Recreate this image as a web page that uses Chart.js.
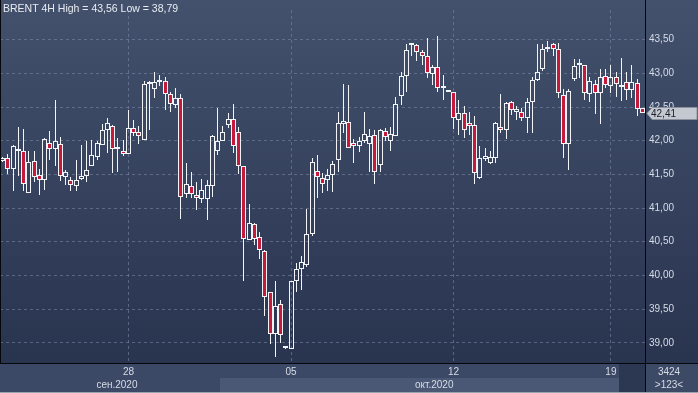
<!DOCTYPE html>
<html>
<head>
<meta charset="utf-8">
<script src="https://cdn.jsdelivr.net/npm/chart.js@4.4.1/dist/chart.umd.min.js"></script>
<style>
  html, body { margin: 0; padding: 0; background: #2a3550; }
  #chart { display: block; }
</style>
</head>
<body>
<canvas id="chart" width="698" height="393"></canvas>
<script>
// BRENT 4H candles (one entry per bar, oldest first)
var openPrices = [
  41.70, 41.74, 41.58, 41.84, 41.84, 41.23, 41.70, 41.49, 41.42, 41.97,
  41.87, 41.95, 41.46, 41.42, 41.33, 41.43, 41.48, 41.62, 41.76, 41.93,
  42.16, 42.22, 41.87, 41.84, 41.80, 42.19, 42.13, 42.01, 42.84, 42.76,
  42.87, 42.88, 42.69, 42.53, 42.63, 41.21, 41.33, 41.20, 41.13, 41.13,
  41.33, 41.84, 42.00, 42.24, 42.32, 42.13, 41.63, 40.52, 40.76, 40.57,
  40.36, 39.76, 39.13, 39.58, 38.92, 38.91, 39.92, 40.10, 40.16, 40.62,
  41.55, 41.45, 41.42, 41.49, 41.71, 42.25, 42.28, 41.97, 41.92, 42.00,
  41.95, 42.08, 41.64, 42.15, 41.99, 42.07, 42.66, 42.96, 43.42, 43.42,
  43.31, 43.26, 42.99, 43.10, 42.79, 42.73, 42.73, 42.31, 42.41, 42.26,
  42.23, 41.45, 41.73, 41.67, 41.74, 42.20, 42.16, 42.57, 42.43, 42.42,
  42.33, 42.58, 42.90, 43.06, 43.36, 43.43, 43.36, 42.68, 41.95, 42.92,
  43.12, 43.13, 42.70, 42.84, 42.71, 42.96, 42.81, 42.95, 42.82, 42.87,
  42.75, 42.86, 42.48
];
var highPrices = [
  41.76, 41.80, 41.94, 42.20, 42.18, 41.84, 41.84, 41.58, 42.04, 42.15,
  42.61, 42.06, 41.56, 41.46, 41.71, 41.94, 42.00, 42.01, 42.00, 42.25,
  42.33, 42.24, 42.04, 42.01, 42.46, 42.31, 42.22, 42.88, 42.88, 43.02,
  42.97, 42.94, 42.72, 42.78, 42.69, 41.67, 41.53, 41.39, 41.43, 41.42,
  42.08, 42.49, 42.22, 42.41, 42.55, 42.20, 41.63, 41.06, 40.78, 40.64,
  40.38, 39.76, 39.92, 39.64, 38.93, 39.92, 40.18, 40.29, 40.98, 41.74,
  41.79, 41.52, 41.58, 41.70, 42.42, 42.84, 42.83, 42.02, 42.06, 42.42,
  42.17, 42.16, 42.17, 42.19, 42.20, 42.65, 43.02, 43.43, 43.45, 43.43,
  43.35, 43.52, 43.12, 43.56, 42.97, 42.74, 42.73, 42.61, 42.52, 42.42,
  42.36, 41.92, 41.89, 41.84, 42.28, 42.69, 42.57, 42.59, 42.51, 42.49,
  42.63, 42.95, 43.43, 43.43, 43.48, 43.45, 43.45, 42.77, 42.76, 43.21,
  43.21, 43.13, 42.95, 42.90, 43.06, 43.07, 43.12, 43.02, 43.23, 43.02,
  43.13, 42.91, 42.49
];
var lowPrices = [
  41.68, 41.51, 41.26, 41.48, 41.26, 41.22, 41.39, 41.20, 41.27, 41.72,
  41.63, 41.40, 41.34, 41.26, 41.26, 41.42, 41.39, 41.62, 41.71, 41.93,
  41.82, 41.52, 41.54, 41.78, 41.80, 42.07, 41.95, 42.01, 42.16, 42.63,
  42.81, 42.45, 42.43, 42.48, 40.84, 41.15, 41.15, 40.97, 41.07, 40.82,
  41.17, 41.79, 42.00, 42.19, 41.82, 41.51, 39.92, 40.52, 40.45, 40.25,
  39.40, 38.98, 38.79, 39.00, 38.91, 38.91, 39.76, 39.78, 40.13, 40.58,
  41.15, 41.23, 41.25, 41.24, 41.54, 42.11, 41.89, 41.67, 41.83, 41.96,
  41.53, 41.36, 41.53, 42.00, 41.85, 42.07, 42.53, 42.72, 43.26, 43.19,
  43.12, 42.93, 42.83, 42.73, 42.60, 42.72, 42.18, 42.09, 42.04, 42.08,
  41.36, 41.43, 41.70, 41.66, 41.67, 42.12, 42.02, 42.38, 42.31, 42.29,
  42.12, 42.12, 42.89, 43.03, 43.32, 43.26, 42.64, 41.75, 41.56, 42.88,
  42.93, 42.61, 42.57, 42.39, 42.25, 42.78, 42.71, 42.65, 42.59, 42.60,
  42.63, 42.36, 42.41
];
var closePrices = [
  41.74, 41.58, 41.92, 41.85, 41.36, 41.68, 41.46, 41.42, 42.03, 41.87,
  42.00, 41.48, 41.54, 41.34, 41.42, 41.48, 41.56, 41.79, 41.97, 42.16,
  42.26, 41.87, 41.90, 41.80, 42.19, 42.12, 42.07, 42.84, 42.85, 42.87,
  42.90, 42.70, 42.54, 42.63, 41.17, 41.35, 41.21, 41.15, 41.27, 41.34,
  42.07, 42.00, 42.13, 42.32, 41.92, 41.63, 40.54, 40.78, 40.54, 40.37,
  39.68, 39.13, 39.55, 39.12, 38.92, 39.92, 40.10, 40.20, 40.62, 41.68,
  41.46, 41.36, 41.49, 41.65, 42.26, 42.29, 41.89, 41.92, 42.00, 42.10,
  42.07, 41.54, 42.16, 42.05, 42.10, 42.54, 42.96, 43.35, 43.43, 43.31,
  43.26, 43.00, 43.10, 42.78, 42.78, 42.72, 42.33, 42.41, 42.16, 42.22,
  41.52, 41.74, 41.77, 41.76, 42.26, 42.16, 42.56, 42.46, 42.47, 42.33,
  42.58, 42.90, 43.02, 43.36, 43.37, 43.36, 42.71, 41.95, 42.74, 43.11,
  43.15, 42.71, 42.89, 42.71, 42.94, 42.82, 42.94, 42.84, 42.79, 42.75,
  42.87, 42.47, 42.41
];

var dayTickIndex = [24, 55, 86, 116];
var dayTickLabels = ['28', '05', '12', '19'];
var monthNames = ['сен.2020', 'окт.2020'];
var monthStartIndex = [0, 42];
var priceTicks = [39.0, 39.5, 40.0, 40.5, 41.0, 41.5, 42.0, 42.5, 43.0, 43.5];
var titleText = 'BRENT 4H High = 43,56 Low = 38,79';
var barCount = '3424';
var visibleCount = '>123<';

function fmt(v) { return v.toFixed(2).replace('.', ','); }

var wickColor = '#f2f4f8';
var downColor = '#c41a3c';
var gridColor = 'rgba(125,140,170,0.55)';
var labelColor = '#d6dce6';

var upperWick = openPrices.map(function (o, i) { return [Math.max(o, closePrices[i]), highPrices[i]]; });
var lowerWick = openPrices.map(function (o, i) { return [lowPrices[i], Math.min(o, closePrices[i])]; });
var bodies = openPrices.map(function (o, i) { return [o, closePrices[i]]; });

// snap the bars the library laid out onto whole pixels so the lines stay crisp
var snapPlugin = {
  id: 'snap',
  afterDatasetsUpdate: function (chart) {
    chart.data.datasets.forEach(function (ds, di) {
      chart.getDatasetMeta(di).data.forEach(function (el) {
        el.x = Math.floor(el.x) + 0.5;
        el.y = Math.round(el.y);
        el.base = Math.round(el.base);
      });
    });
  }
};

var framePlugin = {
  id: 'frame',
  beforeDraw: function (chart) {
    var c = chart.ctx, W = chart.width, H = chart.height;
    var area = chart.chartArea, xs = chart.scales.x;
    var g = c.createLinearGradient(0, 0, 0, area.bottom);
    g.addColorStop(0, '#43516d');
    g.addColorStop(1, '#29344f');
    c.save();
    c.fillStyle = g;
    c.fillRect(0, 0, W, H);

    // time axis rows
    var rowTop = area.bottom + 1, rowMid = area.bottom + 15;
    c.fillStyle = '#3c4966';
    c.fillRect(0, rowTop, area.right, H - rowTop);
    var step = xs.getPixelForValue(1) - xs.getPixelForValue(0);
    var octLeft = Math.round(xs.getPixelForValue(monthStartIndex[1]) - step / 2);
    var octRight = Math.round(xs.getPixelForValue(118) - step / 2);
    c.fillStyle = '#4a5875';
    c.fillRect(octLeft, rowMid, octRight - octLeft, H - rowMid - 1);
    c.fillStyle = '#2c3752';
    c.fillRect(octRight, rowTop, area.right - octRight, H - rowTop - 1);
    c.fillStyle = '#3d4a66';
    c.fillRect(area.right + 1, rowTop, W - area.right - 1, H - rowTop);
    c.restore();
  },
  afterDraw: function (chart) {
    var c = chart.ctx, W = chart.width, H = chart.height;
    var area = chart.chartArea, xs = chart.scales.x, ys = chart.scales.y;
    c.save();

    // frame lines
    c.strokeStyle = '#05070c';
    c.lineWidth = 1;
    c.beginPath();
    c.moveTo(0, area.bottom + 0.5); c.lineTo(W, area.bottom + 0.5);
    c.moveTo(area.right + 0.5, 0); c.lineTo(area.right + 0.5, H);
    c.moveTo(0.5, 0); c.lineTo(0.5, area.bottom);
    c.stroke();
    c.strokeStyle = '#9aa3b3';
    c.beginPath();
    c.moveTo(0, H - 0.5); c.lineTo(W, H - 0.5);
    c.stroke();

    // month labels
    c.font = '10px "Liberation Sans", Arial, sans-serif';
    c.fillStyle = labelColor;
    c.textAlign = 'center';
    c.textBaseline = 'middle';
    c.fillText(monthNames[0], xs.getPixelForValue(21.8), area.bottom + 22);
    c.fillText(monthNames[1], xs.getPixelForValue(82.3), area.bottom + 22);

    // corner counters
    c.fillText(barCount, 669, area.bottom + 9);
    c.fillText(visibleCount, 669, area.bottom + 22);

    // title
    c.textAlign = 'left';
    c.fillStyle = '#e8ecf2';
    c.font = '10.5px "Liberation Sans", Arial, sans-serif';
    c.fillText(titleText, 3, 9);

    // last price marker
    var last = closePrices[closePrices.length - 1];
    var py = Math.round(ys.getPixelForValue(last)) + 0.5;
    var x0 = area.right + 2;
    c.fillStyle = '#c3c8d1';
    c.strokeStyle = '#8a919e';
    c.beginPath();
    c.moveTo(x0, py);
    c.lineTo(x0 + 5, py - 6);
    c.lineTo(W - 1, py - 6);
    c.lineTo(W - 1, py + 6);
    c.lineTo(x0 + 5, py + 6);
    c.closePath();
    c.fill();
    c.stroke();
    c.fillStyle = '#1a1f29';
    c.font = '10px "Liberation Sans", Arial, sans-serif';
    c.fillText(fmt(last), x0 + 4, py + 0.5);
    c.restore();
  }
};

Chart.defaults.font.family = '"Liberation Sans", Arial, sans-serif';
Chart.defaults.font.size = 10;

var ctx = document.getElementById('chart').getContext('2d');
var chart = new Chart(ctx, {
  type: 'bar',
  data: {
    labels: openPrices.map(function (_, i) { return i; }),
    datasets: [
      { data: upperWick, grouped: false, barThickness: 1, backgroundColor: wickColor, borderWidth: 0, inflateAmount: 0 },
      { data: lowerWick, grouped: false, barThickness: 1, backgroundColor: wickColor, borderWidth: 0, inflateAmount: 0 },
      {
        data: bodies, grouped: false, barThickness: 5, minBarLength: 2,
        backgroundColor: function (c) {
          var i = c.dataIndex;
          return closePrices[i] < openPrices[i] ? downColor : 'rgba(0,0,0,0)';
        },
        borderColor: wickColor, borderWidth: 1, borderSkipped: false, inflateAmount: 0
      }
    ]
  },
  options: {
    responsive: false,
    animation: false,
    events: [],
    layout: { padding: 0 },
    plugins: { legend: { display: false }, tooltip: { enabled: false }, title: { display: false } },
    scales: {
      x: {
        type: 'category',
        offset: true,
        grid: { offset: false, color: gridColor, drawTicks: false },
        border: { display: false, dash: [3, 3] },
        ticks: {
          autoSkip: false, maxRotation: 0, padding: 3, color: labelColor,
          callback: function (v, i) { return dayTickLabels[i]; }
        },
        afterBuildTicks: function (s) { s.ticks = dayTickIndex.map(function (v) { return { value: v }; }); },
        afterFit: function (s) { s.height = 30; }
      },
      y: {
        position: 'right',
        min: 38.70,
        max: 43.94,
        grid: { color: gridColor, drawTicks: false },
        border: { display: false, dash: [3, 3] },
        ticks: { padding: 4, color: labelColor, callback: function (v) { return fmt(v); } },
        afterBuildTicks: function (s) { s.ticks = priceTicks.map(function (v) { return { value: v }; }); },
        afterFit: function (s) { s.width = 53; }
      }
    }
  },
  plugins: [snapPlugin, framePlugin]
});
</script>
</body>
</html>
